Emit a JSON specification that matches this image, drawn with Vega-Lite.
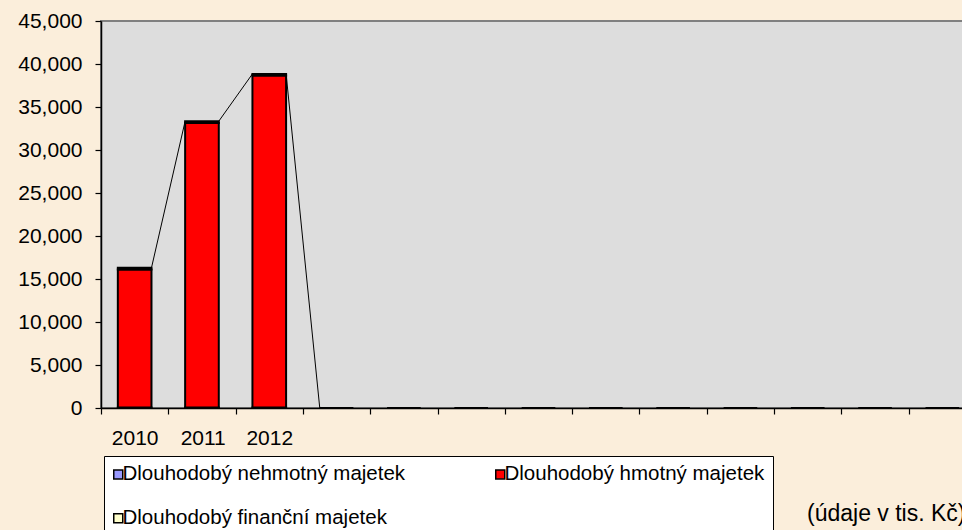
{
  "$schema": "https://vega.github.io/schema/vega-lite/v6.json",
  "width": 875,
  "height": 387,
  "autosize": {"type": "none"},
  "padding": {"left": 101, "top": 21, "right": 0, "bottom": 122},
  "background": "#FBEEDB",
  "config": {
    "view": {"fill": "#DDDDDD", "stroke": "#808080", "strokeWidth": 2},
    "font": "Liberation Sans",
    "axis": {
      "labelFont": "Liberation Sans",
      "labelColor": "#000000",
      "labelFontSize": 21,
      "domainColor": "#000000",
      "domainWidth": 1.5,
      "tickColor": "#000000",
      "tickWidth": 1.2,
      "grid": false
    }
  },
  "layer": [
    {
      "data": {
        "values": [
          {"from": "2010", "to": "2011", "a": 16300, "b": 33350},
          {"from": "2011", "to": "2012", "a": 33350, "b": 38850},
          {"from": "2012", "to": "c04", "a": 38850, "b": 0}
        ]
      },
      "mark": {"type": "rule", "stroke": "#000000", "strokeWidth": 1},
      "encoding": {
        "x": {"field": "from", "type": "nominal", "bandPosition": 0.75},
        "x2": {"field": "to", "bandPosition": 0.25},
        "y": {"field": "a", "type": "quantitative"},
        "y2": {"field": "b"}
      }
    },
    {
      "data": {
        "values": [
          {"cat": "2010", "s": "Dlouhodobý nehmotný majetek", "v": 50, "o": 1},
          {"cat": "2010", "s": "Dlouhodobý hmotný majetek", "v": 16050, "o": 2},
          {"cat": "2010", "s": "Dlouhodobý finanční majetek", "v": 200, "o": 3},
          {"cat": "2011", "s": "Dlouhodobý nehmotný majetek", "v": 50, "o": 1},
          {"cat": "2011", "s": "Dlouhodobý hmotný majetek", "v": 33100, "o": 2},
          {"cat": "2011", "s": "Dlouhodobý finanční majetek", "v": 200, "o": 3},
          {"cat": "2012", "s": "Dlouhodobý nehmotný majetek", "v": 50, "o": 1},
          {"cat": "2012", "s": "Dlouhodobý hmotný majetek", "v": 38600, "o": 2},
          {"cat": "2012", "s": "Dlouhodobý finanční majetek", "v": 200, "o": 3},
          {"cat": "c04", "s": "Dlouhodobý hmotný majetek", "v": 0, "o": 2},
          {"cat": "c05", "s": "Dlouhodobý hmotný majetek", "v": 0, "o": 2},
          {"cat": "c06", "s": "Dlouhodobý hmotný majetek", "v": 0, "o": 2},
          {"cat": "c07", "s": "Dlouhodobý hmotný majetek", "v": 0, "o": 2},
          {"cat": "c08", "s": "Dlouhodobý hmotný majetek", "v": 0, "o": 2},
          {"cat": "c09", "s": "Dlouhodobý hmotný majetek", "v": 0, "o": 2},
          {"cat": "c10", "s": "Dlouhodobý hmotný majetek", "v": 0, "o": 2},
          {"cat": "c11", "s": "Dlouhodobý hmotný majetek", "v": 0, "o": 2},
          {"cat": "c12", "s": "Dlouhodobý hmotný majetek", "v": 0, "o": 2},
          {"cat": "c13", "s": "Dlouhodobý hmotný majetek", "v": 0, "o": 2}
        ]
      },
      "mark": {"type": "bar", "stroke": "#000000", "strokeWidth": 2, "width": {"band": 0.5}},
      "encoding": {
        "x": {
          "field": "cat",
          "type": "nominal",
          "scale": {
            "domain": ["2010", "2011", "2012", "c04", "c05", "c06", "c07", "c08", "c09", "c10", "c11", "c12", "c13"],
            "paddingInner": 0,
            "paddingOuter": 0
          },
          "axis": {
            "title": "(údaje v tis. Kč)",
            "titleFont": "Liberation Sans",
            "titleFontSize": 23,
            "titleFontWeight": "normal",
            "titleColor": "#000000",
            "titleX": 864,
            "titleY": 112,
            "titleAlign": "right",
            "titleBaseline": "alphabetic",
            "labelAngle": 0,
            "labelExpr": "substring(datum.label, 0, 1) == 'c' ? '' : datum.label",
            "tickOffset": -33.65,
            "labelOffset": 57,
            "tickSize": 6,
            "labelPadding": 24
          }
        },
        "y": {
          "field": "v",
          "type": "quantitative",
          "stack": "zero",
          "scale": {"domain": [0, 45000], "nice": false},
          "axis": {
            "title": null,
            "values": [0, 5000, 10000, 15000, 20000, 25000, 30000, 35000, 40000, 45000],
            "format": ",.0f",
            "tickSize": 6,
            "labelPadding": 13
          }
        },
        "color": {
          "field": "s",
          "type": "nominal",
          "scale": {
            "domain": ["Dlouhodobý nehmotný majetek", "Dlouhodobý hmotný majetek", "Dlouhodobý finanční majetek"],
            "range": ["#9999FF", "#FF0000", "#FFFFCC"]
          },
          "legend": {
            "orient": "none",
            "legendX": 3,
            "legendY": 435,
            "direction": "horizontal",
            "columns": 2,
            "gridAlign": "all",
            "title": null,
            "fillColor": "#FFFFFF",
            "strokeColor": "#000000",
            "padding": 8,
            "labelFont": "Liberation Sans",
            "labelFontSize": 20.5,
            "labelColor": "#000000",
            "labelLimit": 400,
            "labelOffset": -6,
            "symbolOffset": -4,
            "symbolType": "square",
            "symbolSize": 81,
            "symbolStrokeColor": "#000000",
            "symbolStrokeWidth": 1.5,
            "symbolOpacity": 1,
            "columnPadding": 86,
            "rowPadding": 23
          }
        },
        "order": {"field": "o", "type": "quantitative"}
      }
    }
  ]
}
